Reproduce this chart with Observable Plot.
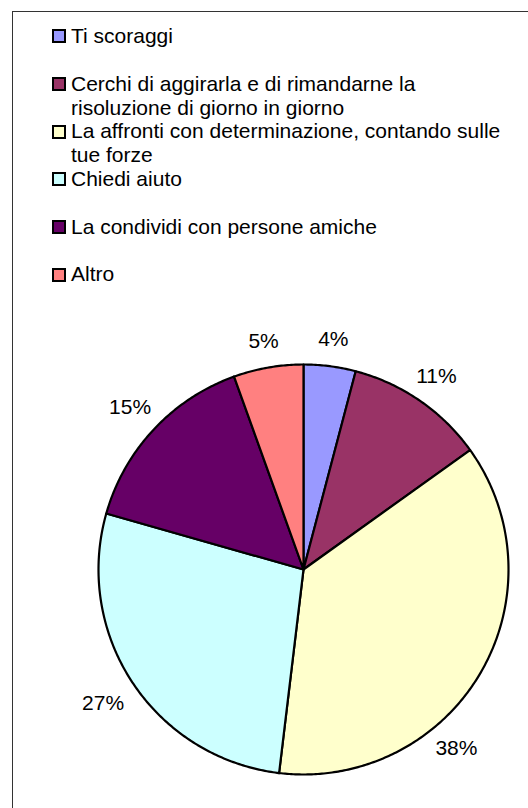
<!DOCTYPE html>
<html>
<head>
<meta charset="utf-8">
<script src="https://cdn.jsdelivr.net/npm/d3@7"></script>
<script src="https://cdn.jsdelivr.net/npm/@observablehq/plot@0.6"></script>
<style>
  html, body { margin: 0; padding: 0; background: #fff; }
  body { width: 528px; height: 808px; overflow: hidden; position: relative;
         font-family: "Liberation Sans", Arial, sans-serif; }
  #frame { position: absolute; left: 12px; top: 11px; width: 600px; height: 900px;
           border-left: 1px solid #333; border-top: 1px solid #333; box-sizing: border-box; }
  #chart { position: absolute; left: 0; top: 0; }
  #legend { position: absolute; left: 52px; top: 24px; }
  .item { display: flex; align-items: flex-start; height: 47.7px; }
  .sw { width: 14px; height: 14px; border: 2px solid #000; box-sizing: border-box;
        margin-top: 5.3px; margin-right: 5px; flex: none; }
  .lab { font-size: 21px; line-height: 24px; color: #000; max-width: 440px; }
</style>
</head>
<body>
<div id="frame"></div>
<div id="chart"></div>
<div id="legend"></div>
<script>
const categories = [
  "Ti scoraggi",
  "Cerchi di aggirarla e di rimandarne la risoluzione di giorno in giorno",
  "La affronti con determinazione, contando sulle tue forze",
  "Chiedi aiuto",
  "La condividi con persone amiche",
  "Altro"
];
const values = [4.1, 11.0, 36.8, 27.5, 15.1, 5.5];
const percentLabels = ["4%", "11%", "38%", "27%", "15%", "5%"];
const colors = ["#9999FF", "#993366", "#FFFFCC", "#CCFFFF", "#660066", "#FF8080"];

// layout
const W = 528, H = 808;
const cx = 303, cy = 569, R = 205;
const rightLimit = W - 50; // labels must stay inside this x

const data = categories.map((c, i) => ({cat: c, value: values[i], label: percentLabels[i]}));
const arcs = d3.pie().sort(null).value(d => d.value)(data);

const px = a => cx + R * Math.sin(a);
const py = a => cy - R * Math.cos(a);

const polys = [];
for (const a of arcs) {
  const pts = [{cat: a.data.cat, x: cx, y: cy}];
  const n = Math.max(2, Math.ceil((a.endAngle - a.startAngle) / 0.01));
  for (let k = 0; k <= n; k++) {
    const t = a.startAngle + (a.endAngle - a.startAngle) * k / n;
    pts.push({cat: a.data.cat, x: px(t), y: py(t)});
  }
  pts.push({cat: a.data.cat, x: cx, y: cy});
  polys.push(...pts);
}

// labels outside at mid-angle, offset by half text box; rotated along the rim if they would leave the frame
function labelPos(m, label) {
  const s = Math.sin(m), c = Math.cos(m);
  const hw = ((label.length - 1) * 11.7 + 18.7) / 2;
  const hh = 11;
  const ext = Math.min(Math.abs(s) > 1e-6 ? hw / Math.abs(s) : 1e9, Math.abs(c) > 1e-6 ? hh / Math.abs(c) : 1e9);
  const d = R + 16 + ext;
  return {x: cx + d * s, y: cy - d * c, hw};
}
const labelRows = arcs.map(a => {
  let m = (a.startAngle + a.endAngle) / 2;
  let p = labelPos(m, a.data.label);
  let guard = 0;
  while (p.x + p.hw > rightLimit && guard++ < 200) {
    m += (m < Math.PI / 2 ? -0.01 : 0.01);
    p = labelPos(m, a.data.label);
  }
  return {label: a.data.label, x: p.x, y: p.y};
});

const plot = Plot.plot({
  width: W, height: H, margin: 0,
  style: {background: "transparent", fontFamily: "'Liberation Sans', Arial, sans-serif"},
  x: {domain: [0, W], range: [0, W], axis: null},
  y: {domain: [0, H], range: [0, H], axis: null},
  color: {domain: categories, range: colors},
  marks: [
    Plot.line(polys, {x: "x", y: "y", z: "cat", fill: "cat", stroke: "#000", strokeWidth: 2.2, curve: "linear"}),
    Plot.text(labelRows, {x: "x", y: "y", text: "label", fontSize: 21, fill: "#000", textAnchor: "middle", lineAnchor: "middle"})
  ]
});
document.getElementById("chart").appendChild(plot);

const legend = document.getElementById("legend");
categories.forEach((c, i) => {
  const it = document.createElement("div");
  it.className = "item";
  const sw = document.createElement("div");
  sw.className = "sw";
  sw.style.background = colors[i];
  const lab = document.createElement("div");
  lab.className = "lab";
  lab.textContent = c;
  it.appendChild(sw); it.appendChild(lab);
  legend.appendChild(it);
});
</script>
</body>
</html>
